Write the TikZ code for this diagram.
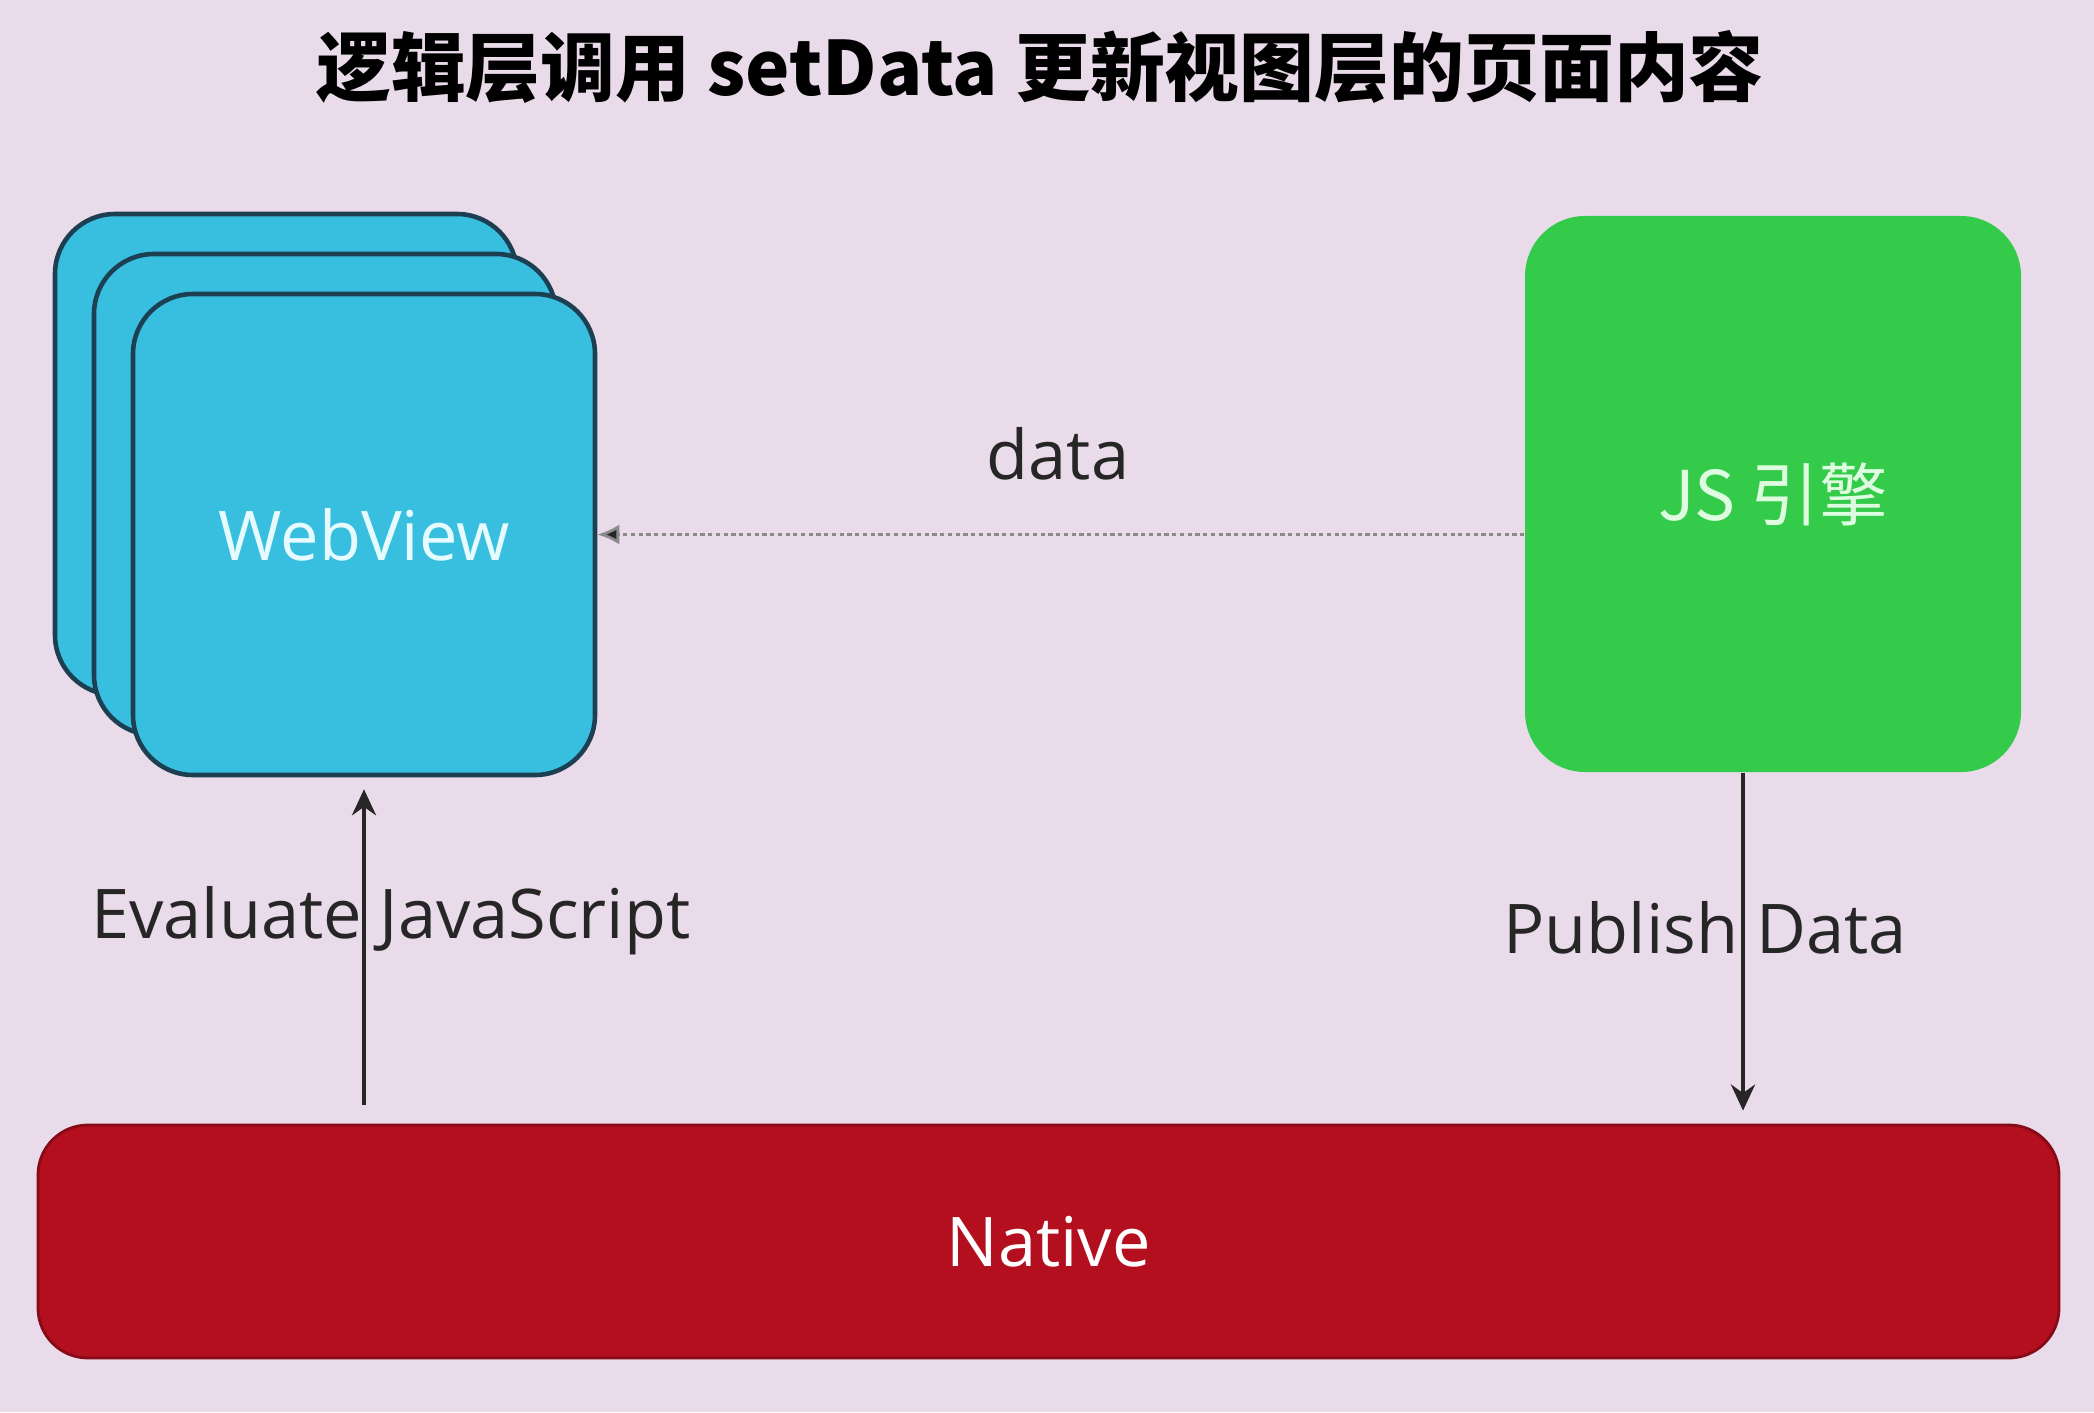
\documentclass[tikz,border=0pt]{standalone}
\usepackage{fontspec}
\setmainfont{Open Sans}
\newfontfamily\cjk{Noto Sans CJK SC}
\usepackage{tikz}
\usetikzlibrary{arrows.meta,positioning}
\definecolor{bg}{HTML}{E9DBEA}
\definecolor{webblue}{HTML}{38BFE0}
\definecolor{edge}{HTML}{1D3F52}
\definecolor{jsgreen}{HTML}{35CB4A}
\definecolor{natred}{HTML}{B30F1E}
\definecolor{ink}{HTML}{262626}
\definecolor{webtext}{HTML}{E6FBFF}
\definecolor{jstext}{HTML}{DDFCE0}
\definecolor{dotgray}{HTML}{8A8A8A}
\tikzset{
  card/.style={draw=edge, fill=webblue, line width=1.3pt, rounded corners=0.6cm,
    minimum width=4.62cm, minimum height=4.81cm, inner sep=0pt},
  engine/.style={fill=jsgreen, rounded corners=0.6cm,
    minimum width=4.96cm, minimum height=5.56cm, inner sep=0pt},
  native/.style={fill=natred, draw=natred!75!black, line width=0.8pt, rounded corners=0.5cm,
    minimum width=20.21cm, minimum height=2.33cm, inner sep=0pt},
  big/.style={font=\fontsize{19.5}{23}\selectfont},
  lab/.style={text=ink, big},
  flow/.style={draw=ink, line width=1.3pt, -{Stealth[length=0.26cm,width=0.24cm]}},
  dataflow/.style={draw=dotgray, line width=0.8pt, dash pattern=on 1.2pt off 1pt,
    -{Latex[length=0.22cm,width=0.2cm,fill=ink]}},
}
\begin{document}
\begin{tikzpicture}
  \fill[bg] (0,0) rectangle (20.94,-14.12);
  \useasboundingbox (0,0) rectangle (20.94,-14.12);
  \node[text=black, font=\fontsize{21.3}{25}\selectfont\cjk\bfseries] (title) at (10.40,-0.67)
    {逻辑层调用 setData 更新视图层的页面内容};
  % stacked webviews, back to front
  \foreach \n in {2,1}
    \node[card] (web\n) at ({3.64-0.39*\n},{-5.345+0.40*\n}) {};
  \node[card, text=webtext, big] (web) at (3.64,-5.345) {WebView};
  \node[engine, text=jstext, big] (engine) at (17.73,-4.94) {\cjk JS 引擎};
  \node[native, text=white, big] (native) at (10.485,-12.415) {Native};
  \coordinate (pub) at ([xshift=-0.30cm]engine.south);
  \draw[dataflow] (web.east -| engine.west) -- (web.east);
  \node[lab] (data) at (10.58,-4.54) {data};
  \draw[flow, shorten <=0.19cm, shorten >=0.12cm] (native.north -| web.south) -- (web.south);
  \draw[flow, shorten >=0.13cm] (pub) -- (pub |- native.north);
  \node[lab] (evaljs) at (3.91,-9.21) {Evaluate JavaScript};
  \node[lab] (pubdata) at (17.05,-9.28) {Publish Data};
\end{tikzpicture}
\end{document}
